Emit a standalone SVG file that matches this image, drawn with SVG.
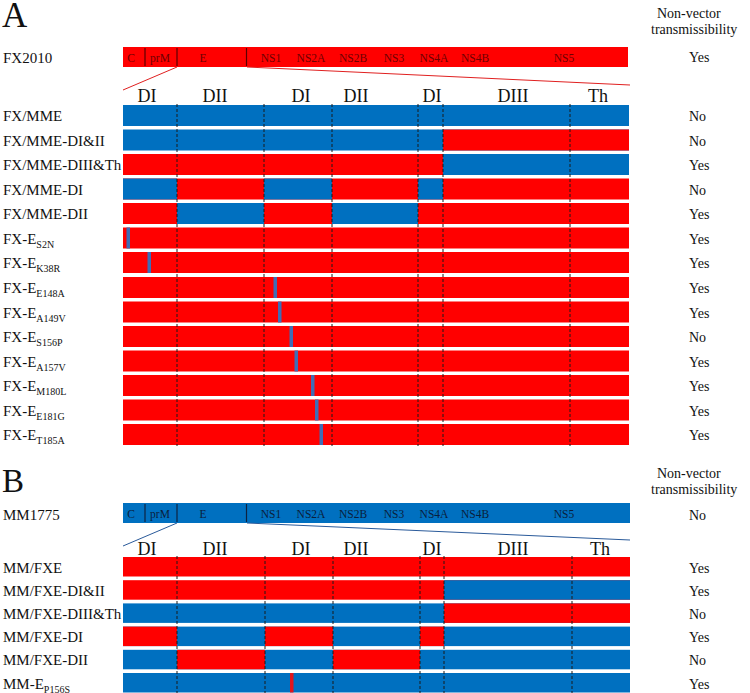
<svg xmlns="http://www.w3.org/2000/svg" width="750" height="693" viewBox="0 0 750 693">
<style>
text{font-family:"Liberation Serif","Times New Roman",serif;fill:#111}
.lbl{font-size:15px}
.ans{font-size:14px}
.hdr{font-size:14px}
.dom{font-size:18px;text-anchor:middle}
.gtA{font-size:11.5px;text-anchor:middle;fill:#6e0000}
.gtB{font-size:11.5px;text-anchor:middle;fill:#0a1e3c}
.r{fill:#ff0000}
.b{fill:#0070c0}
.mb{fill:#3f6db5}
.mr{fill:#e0151c}
.dash{stroke:#1a1a1a;stroke-width:1;stroke-dasharray:3 2;fill:none}
.divA{stroke:#5a0000;stroke-width:1.2}
.divB{stroke:#0d2240;stroke-width:1.2}
.sub{font-size:10px}
</style>
<rect width="750" height="693" fill="#fff"/>

<!-- Panel A -->
<g id="panelA-title"><text x="2" y="27" font-size="35">A</text></g>
<g id="headerA"><text class="hdr" x="657" y="18">Non-vector</text><text class="hdr" x="651" y="34">transmissibility</text></g>

<g id="FX2010">
<text class="lbl" x="3" y="63">FX2010</text>
<rect class="r" x="123" y="47" width="505" height="20"/>
<line class="divA" x1="145" y1="48" x2="145" y2="66"/>
<line class="divA" x1="177" y1="48" x2="177" y2="66"/>
<line class="divA" x1="246.5" y1="48" x2="246.5" y2="66"/>
<text class="gtA" x="131" y="62">C</text>
<text class="gtA" x="160" y="62">prM</text>
<text class="gtA" x="203" y="62">E</text>
<text class="gtA" x="271" y="62">NS1</text>
<text class="gtA" x="311" y="62">NS2A</text>
<text class="gtA" x="353" y="62">NS2B</text>
<text class="gtA" x="394" y="62">NS3</text>
<text class="gtA" x="434" y="62">NS4A</text>
<text class="gtA" x="475" y="62">NS4B</text>
<text class="gtA" x="564" y="62">NS5</text>
<text class="ans" x="689" y="62">Yes</text>
</g>

<g id="connectorsA">
<line x1="177" y1="67" x2="123" y2="90" stroke="#e02020" stroke-width="1"/>
<line x1="247" y1="67" x2="630" y2="85" stroke="#e02020" stroke-width="1"/>
</g>

<g id="domainsA">
<text class="dom" x="147" y="102">DI</text>
<text class="dom" x="215" y="102">DII</text>
<text class="dom" x="301" y="102">DI</text>
<text class="dom" x="356" y="102">DII</text>
<text class="dom" x="432" y="102">DI</text>
<text class="dom" x="513" y="102">DIII</text>
<text class="dom" x="598" y="102">Th</text>
</g>

<g id="FX-MME"><rect class="b" x="123" y="105" width="506" height="21"/><text class="lbl" x="3" y="121">FX/MME</text><text class="ans" x="689" y="121">No</text></g>
<g id="FX-MME-DI-II"><rect class="b" x="123" y="129.5" width="506" height="21"/><rect class="r" x="443" y="129.5" width="186" height="21"/><text class="lbl" x="3" y="145.5">FX/MME-DI&amp;II</text><text class="ans" x="689" y="145.5">No</text></g>
<g id="FX-MME-DIII-Th"><rect class="r" x="123" y="154" width="506" height="21"/><rect class="b" x="443" y="154" width="186" height="21"/><text class="lbl" x="3" y="170">FX/MME-DIII&amp;Th</text><text class="ans" x="689" y="170">Yes</text></g>
<g id="FX-MME-DI"><rect class="r" x="123" y="178.5" width="506" height="21"/><rect class="b" x="123" y="178.5" width="54" height="21"/><rect class="b" x="264" y="178.5" width="68" height="21"/><rect class="b" x="418" y="178.5" width="25" height="21"/><text class="lbl" x="3" y="194.5">FX/MME-DI</text><text class="ans" x="689" y="194.5">No</text></g>
<g id="FX-MME-DII"><rect class="r" x="123" y="203" width="506" height="21"/><rect class="b" x="177" y="203" width="87" height="21"/><rect class="b" x="332" y="203" width="86" height="21"/><text class="lbl" x="3" y="219">FX/MME-DII</text><text class="ans" x="689" y="219">Yes</text></g>
<g id="FX-E-S2N"><rect class="r" x="123" y="227.5" width="506" height="21"/><rect class="mb" x="126.5" y="227.5" width="3.5" height="21"/><text class="lbl" x="3" y="243.5">FX-E<tspan class="sub" dy="4">S2N</tspan></text><text class="ans" x="689" y="243.5">Yes</text></g>
<g id="FX-E-K38R"><rect class="r" x="123" y="252" width="506" height="21"/><rect class="mb" x="147.5" y="252" width="3.5" height="21"/><text class="lbl" x="3" y="268">FX-E<tspan class="sub" dy="4">K38R</tspan></text><text class="ans" x="689" y="268">Yes</text></g>
<g id="FX-E-E148A"><rect class="r" x="123" y="277" width="506" height="21"/><rect class="mb" x="273.5" y="277" width="3.5" height="21"/><text class="lbl" x="3" y="293">FX-E<tspan class="sub" dy="4">E148A</tspan></text><text class="ans" x="689" y="293">Yes</text></g>
<g id="FX-E-A149V"><rect class="r" x="123" y="301.5" width="506" height="21"/><rect class="mb" x="278" y="301.5" width="3.5" height="21"/><text class="lbl" x="3" y="317.5">FX-E<tspan class="sub" dy="4">A149V</tspan></text><text class="ans" x="689" y="317.5">Yes</text></g>
<g id="FX-E-S156P"><rect class="r" x="123" y="326" width="506" height="21"/><rect class="mb" x="289.5" y="326" width="3.5" height="21"/><text class="lbl" x="3" y="342">FX-E<tspan class="sub" dy="4">S156P</tspan></text><text class="ans" x="689" y="342">No</text></g>
<g id="FX-E-A157V"><rect class="r" x="123" y="350.5" width="506" height="21"/><rect class="mb" x="294.5" y="350.5" width="3.5" height="21"/><text class="lbl" x="3" y="366.5">FX-E<tspan class="sub" dy="4">A157V</tspan></text><text class="ans" x="689" y="366.5">Yes</text></g>
<g id="FX-E-M180L"><rect class="r" x="123" y="375" width="506" height="21"/><rect class="mb" x="311" y="375" width="3.5" height="21"/><text class="lbl" x="3" y="391">FX-E<tspan class="sub" dy="4">M180L</tspan></text><text class="ans" x="689" y="391">Yes</text></g>
<g id="FX-E-E181G"><rect class="r" x="123" y="399.5" width="506" height="21"/><rect class="mb" x="315" y="399.5" width="3.5" height="21"/><text class="lbl" x="3" y="415.5">FX-E<tspan class="sub" dy="4">E181G</tspan></text><text class="ans" x="689" y="415.5">Yes</text></g>
<g id="FX-E-T185A"><rect class="r" x="123" y="424" width="506" height="21"/><rect class="mb" x="319.5" y="424" width="3.5" height="21"/><text class="lbl" x="3" y="440">FX-E<tspan class="sub" dy="4">T185A</tspan></text><text class="ans" x="689" y="440">Yes</text></g>

<g id="dashesA">
<line class="dash" x1="177" y1="104" x2="177" y2="446"/>
<line class="dash" x1="264" y1="104" x2="264" y2="446"/>
<line class="dash" x1="332" y1="104" x2="332" y2="446"/>
<line class="dash" x1="418" y1="104" x2="418" y2="446"/>
<line class="dash" x1="443" y1="104" x2="443" y2="446"/>
<line class="dash" x1="570" y1="104" x2="570" y2="446"/>
</g>

<!-- Panel B -->
<g id="panelB-title"><text x="2" y="492" font-size="33">B</text></g>
<g id="headerB"><text class="hdr" x="657" y="478">Non-vector</text><text class="hdr" x="651" y="494">transmissibility</text></g>

<g id="MM1775">
<text class="lbl" x="3" y="520">MM1775</text>
<rect class="b" x="123" y="503" width="507" height="20"/>
<line class="divB" x1="145" y1="504" x2="145" y2="522"/>
<line class="divB" x1="177" y1="504" x2="177" y2="522"/>
<line class="divB" x1="246.5" y1="504" x2="246.5" y2="522"/>
<text class="gtB" x="131" y="518">C</text>
<text class="gtB" x="160" y="518">prM</text>
<text class="gtB" x="203" y="518">E</text>
<text class="gtB" x="271" y="518">NS1</text>
<text class="gtB" x="311" y="518">NS2A</text>
<text class="gtB" x="353" y="518">NS2B</text>
<text class="gtB" x="394" y="518">NS3</text>
<text class="gtB" x="434" y="518">NS4A</text>
<text class="gtB" x="475" y="518">NS4B</text>
<text class="gtB" x="564" y="518">NS5</text>
<text class="ans" x="689" y="520">No</text>
</g>

<g id="connectorsB">
<line x1="177" y1="523" x2="123" y2="546" stroke="#2a5a9a" stroke-width="1"/>
<line x1="247" y1="523" x2="630" y2="540" stroke="#2a5a9a" stroke-width="1"/>
</g>

<g id="domainsB">
<text class="dom" x="147" y="555">DI</text>
<text class="dom" x="215" y="555">DII</text>
<text class="dom" x="301" y="555">DI</text>
<text class="dom" x="356" y="555">DII</text>
<text class="dom" x="432" y="555">DI</text>
<text class="dom" x="513" y="555">DIII</text>
<text class="dom" x="600" y="555">Th</text>
</g>

<g id="MM-FXE"><rect class="r" x="123" y="557" width="507" height="19.5"/><text class="lbl" x="3" y="572.5">MM/FXE</text><text class="ans" x="689" y="572.5">Yes</text></g>
<g id="MM-FXE-DI-II"><rect class="r" x="123" y="580.2" width="507" height="19.5"/><rect class="b" x="444" y="580.2" width="186" height="19.5"/><text class="lbl" x="3" y="595.7">MM/FXE-DI&amp;II</text><text class="ans" x="689" y="595.7">Yes</text></g>
<g id="MM-FXE-DIII-Th"><rect class="b" x="123" y="603.4" width="507" height="19.5"/><rect class="r" x="444" y="603.4" width="186" height="19.5"/><text class="lbl" x="3" y="618.9">MM/FXE-DIII&amp;Th</text><text class="ans" x="689" y="618.9">No</text></g>
<g id="MM-FXE-DI"><rect class="b" x="123" y="626.6" width="507" height="19.5"/><rect class="r" x="123" y="626.6" width="54" height="19.5"/><rect class="r" x="265" y="626.6" width="68" height="19.5"/><rect class="r" x="420" y="626.6" width="24" height="19.5"/><text class="lbl" x="3" y="642.1">MM/FXE-DI</text><text class="ans" x="689" y="642.1">Yes</text></g>
<g id="MM-FXE-DII"><rect class="b" x="123" y="649.8" width="507" height="19.5"/><rect class="r" x="177" y="649.8" width="88" height="19.5"/><rect class="r" x="333" y="649.8" width="87" height="19.5"/><text class="lbl" x="3" y="665.3">MM/FXE-DII</text><text class="ans" x="689" y="665.3">No</text></g>
<g id="MM-E-P156S"><rect class="b" x="123" y="673" width="507" height="19.5"/><rect class="mr" x="290" y="673" width="3.5" height="19.5"/><text class="lbl" x="3" y="688.5">MM-E<tspan class="sub" dy="4">P156S</tspan></text><text class="ans" x="689" y="688.5">Yes</text></g>

<g id="dashesB">
<line class="dash" x1="177" y1="556" x2="177" y2="693"/>
<line class="dash" x1="265" y1="556" x2="265" y2="693"/>
<line class="dash" x1="333" y1="556" x2="333" y2="693"/>
<line class="dash" x1="420" y1="556" x2="420" y2="693"/>
<line class="dash" x1="444" y1="556" x2="444" y2="693"/>
<line class="dash" x1="572" y1="556" x2="572" y2="693"/>
</g>
</svg>
